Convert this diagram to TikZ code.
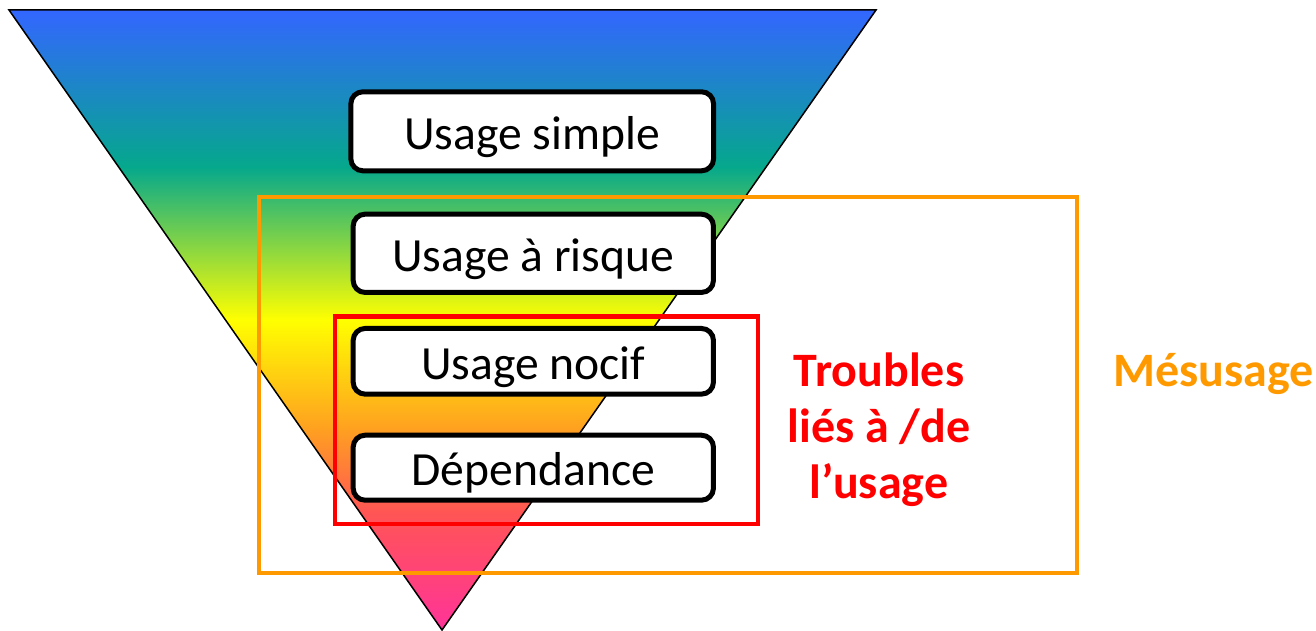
\documentclass[tikz,border=0pt]{standalone}
\usepackage{fontspec}
\setmainfont{Carlito}
\definecolor{tblue}{HTML}{3366FF}
\definecolor{tteal}{HTML}{05A88C}
\definecolor{tyellow}{HTML}{FFFF00}
\definecolor{torange}{HTML}{FFA020}
\definecolor{tred}{HTML}{FF5555}
\definecolor{tpink}{HTML}{FF3399}
\definecolor{frameorange}{HTML}{FF9900}
\definecolor{framered}{HTML}{FF0000}
\pgfdeclareverticalshading{funnel}{100bp}{color(0bp)=(tpink); color(25bp)=(tpink); color(34.5bp)=(tred); color(41.2bp)=(torange); color(50bp)=(tyellow); color(62.35bp)=(tteal); color(75bp)=(tblue); color(100bp)=(tblue)}
\begin{document}
\begin{tikzpicture}[x=1pt,y=-1pt,
  stage/.style={draw=black, line width=5pt, fill=white, rounded corners=12pt,
    font=\fontsize{47.6}{56}\selectfont, text height=36pt, text depth=0pt, inner sep=0pt},
  sidelabel/.style={font=\fontsize{48}{56}\selectfont\bfseries, anchor=base, inner sep=0pt}]
\useasboundingbox (0,0) rectangle (1316,631);
\coordinate (tl) at (9,10);
\coordinate (tr) at (876,10);
\coordinate (apex) at (442,630);
\shade[shading=funnel, draw=black, line width=1.5pt, line join=miter] (tl) -- (tr) -- (apex) -- cycle;
\node[stage, minimum width=362.7pt, minimum height=79pt] (s1) at (532.2,131.3) {Usage simple};
\node[stage, minimum width=360.3pt, minimum height=78.3pt] (s2) at (533.3,253.3) {Usage à risque};
\node[stage, minimum width=360.3pt, minimum height=65.7pt] (s3) at (533.3,361.3) {Usage nocif};
\node[stage, minimum width=360.3pt, minimum height=65pt] (s4) at (533.3,467.7) {Dépendance};
\draw[line width=4.3pt, draw=frameorange] (259,197) rectangle (1077,573);
\draw[line width=4.6pt, draw=framered] (335,316.5) rectangle (758,524);
\node[sidelabel, text=framered] (t1) at (879,386) {Troubles};
\node[sidelabel, text=framered] (t2) at (879,442) {liés à /de};
\node[sidelabel, text=framered] (t3) at (879,498) {l’usage};
\node[sidelabel, text=frameorange] (mes) at (1213.5,386) {Mésusage};
\end{tikzpicture}
\end{document}
